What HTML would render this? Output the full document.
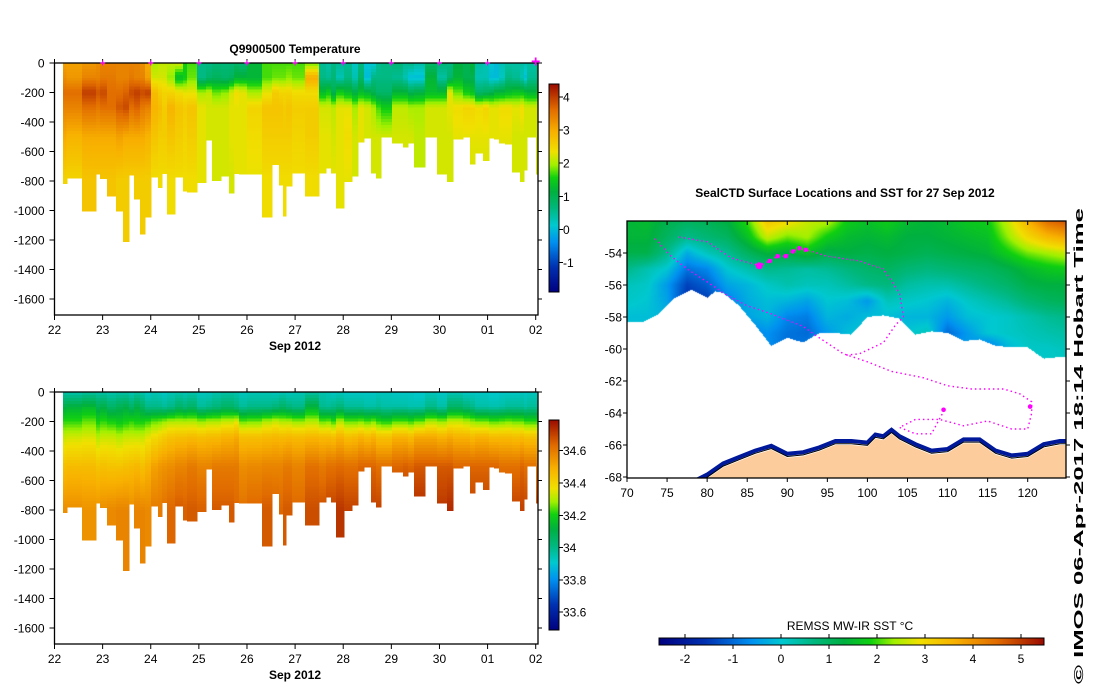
<!DOCTYPE html>
<html><head><meta charset="utf-8"><style>
html,body{margin:0;padding:0;background:#fff;}
#wrap{position:relative;width:1099px;height:700px;overflow:hidden;background:#fff;}
#sst{position:absolute;left:627px;top:221px;}
#main{position:absolute;left:0;top:0;}
text{font-family:"Liberation Sans",sans-serif;fill:#000;}
</style></head><body>
<div id="wrap">
<canvas id="sst" width="439" height="257"></canvas>
<svg id="main" width="1099" height="700" xmlns="http://www.w3.org/2000/svg">
<g id="tempPlot"></g>
<g id="salPlot"></g>
<g id="mapPlot"></g>
<text x="295" y="53" font-size="12" font-weight="bold" text-anchor="middle">Q9900500  Temperature</text>
<text x="845" y="197" font-size="12" font-weight="bold" text-anchor="middle">SealCTD Surface Locations and SST for 27 Sep 2012</text>
<text x="850" y="630" font-size="12" text-anchor="middle">REMSS MW-IR SST °C</text>
<text transform="translate(1083,684) rotate(-90)" font-size="13" font-weight="bold" textLength="476" lengthAdjust="spacingAndGlyphs">© IMOS 06-Apr-2017 18:14 Hobart Time</text>
</svg>
</div>
<script>
// ---------- data ----------
const depthLevels=[0,100,200,300,500,800];
const profileDay=[22.177,22.254,22.571,22.862,22.946,23.091,23.278,23.424,23.548,23.652,23.777,23.881,24.005,24.151,24.234,24.338,24.504,24.671,24.754,24.962,25.148,25.273,25.460,25.627,25.730,25.834,26.0,26.312,26.52,26.665,26.749,26.811,26.936,27.206,27.497,27.643,27.747,27.850,28.017,28.183,28.308,28.432,28.578,28.682,28.786,29.014,29.243,29.347,29.472,29.700,29.950,30.158,30.282,30.490,30.636,30.739,30.906,31.030,31.134,31.238,31.363,31.508,31.675,31.758,31.820,32.007,32.049];
const profileMaxDepth=[815,778,1001,753,782,900,1001,1211,758,920,1160,1045,772,845,750,1022,772,868,875,810,520,797,764,880,749,752,752,1045,688,825,1038,833,745,900,745,712,745,981,804,764,534,507,745,778,500,541,570,541,704,500,752,804,514,500,685,611,659,507,514,543,550,738,804,724,500,752];
const tempProfiles=[
[3.1,3.3,3.6,3.4,3.0,2.5],[3.1,3.2,3.6,3.4,2.9,2.5],[3.2,3.4,4.0,3.6,3.0,2.7],[3.3,3.4,3.8,3.5,3.0,2.7],[3.4,3.5,3.9,3.6,3.0,2.7],
[3.4,3.5,3.6,3.6,3.0,2.7],[3.4,3.4,3.6,3.8,3.1,2.6],[3.4,3.4,3.7,3.9,3.0,2.6],[3.4,3.5,3.9,3.6,3.0,2.6],[3.4,3.4,4.0,3.7,3.0,2.6],
[3.3,3.4,3.9,3.5,3.0,2.6],[3.0,3.1,4.0,3.4,2.9,2.6],[2.0,2.2,2.8,2.9,2.7,2.4],[2.1,2.2,2.6,2.8,2.6,2.4],[2.1,2.2,2.5,2.6,2.6,2.4],
[2.1,1.9,2.5,2.9,2.7,2.4],[2.2,1.3,2.4,2.7,2.6,2.4],[1.5,1.5,2.3,2.6,2.5,2.4],[1.7,1.8,2.3,2.7,2.6,2.4],[0.6,0.6,2.0,2.3,2.3,2.3],
[0.6,0.8,2.1,2.2,2.2,2.2],[0.7,0.9,1.8,2.2,2.2,2.2],[0.7,0.8,1.9,2.2,2.2,2.2],[0.7,0.9,2.2,2.3,2.3,2.2],[0.8,1.2,2.4,2.3,2.3,2.3],
[0.7,1.2,2.3,2.3,2.3,2.3],[1.2,1.2,2.0,2.5,2.4,2.3],[1.7,1.7,2.3,2.7,2.6,2.4],[1.7,1.8,2.6,2.7,2.6,2.4],[1.7,1.8,2.5,2.7,2.6,2.4],
[1.7,1.8,2.5,2.6,2.6,2.4],[1.7,1.9,2.5,2.7,2.6,2.4],[1.7,1.8,2.4,2.6,2.5,2.4],[1.8,3.0,2.4,2.6,2.6,2.4],[0.5,0.6,1.3,2.2,2.3,2.3],
[0.4,0.5,1.5,2.2,2.3,2.3],[0.6,0.7,1.0,2.1,2.2,2.3],[0.5,0.3,1.5,2.3,2.3,2.3],[0.5,0.6,1.3,2.3,2.4,2.3],[0.2,0.3,1.1,2.0,2.2,2.2],
[0.6,0.8,1.3,2.3,2.3,2.2],[0.1,0.0,1.2,2.2,2.2,2.2],[0.1,0.6,1.0,2.0,2.2,2.2],[0.5,0.6,0.8,1.7,2.2,2.2],[0.6,0.6,0.8,1.5,2.2,2.2],
[0.7,0.5,1.2,2.1,2.2,2.2],[0.5,0.3,1.2,2.1,2.2,2.2],[0.6,0.0,1.0,2.0,2.2,2.2],[0.4,0.0,1.1,2.0,2.1,2.1],[0.8,1.2,1.3,2.2,2.2,2.2],
[0.7,0.4,1.3,2.2,2.2,2.2],[0.6,0.8,2.3,2.3,2.2,2.2],[1.1,1.2,1.8,2.4,2.3,2.2],[1.0,1.0,1.5,2.5,2.3,2.2],[1.2,1.0,1.4,2.5,2.3,2.2],
[0.4,0.3,0.8,2.4,2.3,2.2],[0.3,0.3,0.9,2.5,2.3,2.2],[0.1,0.0,1.0,2.3,2.3,2.2],[0.0,0.0,1.2,2.3,2.3,2.2],[0.3,0.2,1.2,2.4,2.3,2.2],
[0.4,0.6,1.3,2.4,2.3,2.2],[0.4,0.5,1.4,2.3,2.2,2.2],[0.4,0.3,1.4,2.4,2.2,2.2],[0.3,0.0,1.3,2.2,2.2,2.2],[0.4,0.5,1.2,2.2,2.2,2.2],
[0.6,0.6,1.3,2.2,2.2,2.2]];
const salProfiles=[
[33.96,34.10,34.22,34.32,34.45,34.56],[33.95,34.12,34.22,34.33,34.46,34.56],[33.97,34.14,34.25,34.34,34.46,34.55],[33.96,34.08,34.2,34.3,34.44,34.55],[33.96,34.10,34.22,34.32,34.45,34.56],
[33.95,34.05,34.2,34.32,34.44,34.57],[33.96,34.08,34.18,34.3,34.44,34.58],[33.96,34.10,34.2,34.32,34.45,34.58],[33.94,34.05,34.22,34.32,34.46,34.56],[33.96,34.10,34.2,34.32,34.47,34.58],
[33.95,34.06,34.2,34.32,34.45,34.58],[33.92,34.0,34.22,34.35,34.48,34.57],[33.94,34.0,34.25,34.38,34.52,34.6],[33.93,34.0,34.26,34.4,34.54,34.6],[33.92,33.98,34.28,34.42,34.55,34.62],
[33.94,34.0,34.3,34.44,34.56,34.64],[33.95,34.05,34.3,34.45,34.58,34.66],[33.94,34.02,34.3,34.45,34.58,34.65],[33.95,34.05,34.3,34.46,34.6,34.66],[33.93,33.98,34.28,34.45,34.58,34.65],
[33.93,34.0,34.3,34.46,34.58,34.64],[33.95,34.02,34.3,34.46,34.6,34.66],[33.96,34.05,34.32,34.48,34.6,34.66],[33.96,34.05,34.32,34.48,34.6,34.66],[33.95,34.02,34.35,34.5,34.6,34.64],
[33.93,33.98,34.25,34.45,34.56,34.62],[33.94,34.0,34.26,34.45,34.57,34.64],[33.94,34.0,34.3,34.46,34.58,34.66],[33.93,34.02,34.32,34.47,34.58,34.65],[33.94,34.05,34.3,34.46,34.58,34.64],
[33.94,34.05,34.3,34.46,34.6,34.66],[33.93,34.02,34.3,34.47,34.6,34.66],[33.94,34.0,34.28,34.46,34.58,34.64],[33.96,34.12,34.3,34.47,34.62,34.68],[33.95,33.99,34.25,34.46,34.6,34.68],
[33.94,33.98,34.26,34.46,34.62,34.7],[33.92,34.0,34.22,34.45,34.62,34.7],[33.93,34.02,34.3,34.48,34.63,34.72],[33.92,33.98,34.25,34.45,34.62,34.7],[33.92,33.98,34.25,34.46,34.62,34.7],
[33.92,33.98,34.26,34.48,34.64,34.7],[33.92,33.96,34.24,34.46,34.64,34.7],[33.92,33.96,34.26,34.48,34.64,34.7],[33.93,33.98,34.22,34.44,34.62,34.7],[33.93,33.96,34.2,34.44,34.62,34.7],
[33.92,33.96,34.24,34.48,34.64,34.72],[33.92,33.96,34.24,34.48,34.65,34.72],[33.92,33.95,34.22,34.46,34.64,34.72],[33.91,33.95,34.25,34.5,34.66,34.74],[33.93,34.0,34.3,34.5,34.66,34.72],
[33.92,33.96,34.28,34.48,34.66,34.72],[33.94,34.05,34.32,34.5,34.66,34.74],[33.94,34.05,34.32,34.48,34.64,34.7],[33.92,34.02,34.3,34.48,34.64,34.7],[33.92,34.0,34.28,34.46,34.64,34.7],
[33.92,33.96,34.26,34.48,34.64,34.7],[33.92,33.96,34.26,34.48,34.64,34.7],[33.91,33.95,34.24,34.46,34.64,34.7],[33.91,33.95,34.24,34.46,34.64,34.7],[33.92,33.96,34.25,34.46,34.62,34.7],
[33.92,33.98,34.26,34.46,34.62,34.7],[33.92,33.98,34.25,34.45,34.62,34.7],[33.93,33.98,34.25,34.46,34.64,34.7],[33.92,33.96,34.22,34.44,34.62,34.7],[33.93,33.98,34.22,34.44,34.62,34.68],
[33.93,33.98,34.22,34.44,34.6,34.68]];
const dayTicks=[22,23,24,25,26,27,28,29,30,31,32];
const dayTickLabels=["22","23","24","25","26","27","28","29","30","01","02"];
const depthTicks=[0,-200,-400,-600,-800,-1000,-1200,-1400,-1600];
const tempBarTicks=[-1,0,1,2,3,4];
const salBarTicks=[33.6,33.8,34.0,34.2,34.4,34.6];
const salBarLabels=["33.6","33.8","34","34.2","34.4","34.6"];
const sstBarTicks=[-2,-1,0,1,2,3,4,5];
// map data
const sstLons=[70,72.5,75,77.5,80,82.5,85,87.5,90,92.5,95,97.5,100,102.5,105,107.5,110,112.5,115,117.5,120,122.5,125];
const sstLats=[-52,-53,-54,-55,-56,-57,-58,-59,-60,-61];
const sstGrid=[
[1.4,1.5,1.2,1.0,1.1,1.3,2.0,3.3,3.0,2.6,2.5,1.8,1.6,1.8,1.5,1.4,1.5,1.7,1.8,2.6,3.6,4.5,4.8],
[1.4,1.4,1.0,0.6,0.8,1.0,1.6,2.6,2.2,2.4,1.8,1.5,1.4,1.5,1.3,1.3,1.4,1.5,1.6,2.3,3.0,3.5,3.8],
[1.2,1.2,0.6,-0.3,0.2,0.5,1.0,1.4,1.3,1.6,1.2,1.3,1.2,1.3,1.2,1.1,1.2,1.3,1.4,1.8,2.2,2.4,2.6],
[0.6,0.3,0.0,-0.9,-0.7,0.0,0.3,0.6,0.5,0.4,0.5,0.7,0.9,1.0,0.8,0.7,0.8,0.9,1.0,1.2,1.5,1.7,1.8],
[0.2,0.1,-0.5,-1.4,-1.1,-0.4,-0.2,0.1,0.3,0.2,0.2,0.4,0.6,0.7,0.4,0.3,0.3,0.5,0.7,0.9,1.2,1.3,1.3],
[0.1,0.0,-0.4,-1.6,-1.5,-0.8,-0.3,-0.1,-0.2,-0.4,0.0,-0.1,-0.5,0.2,0.1,0.0,-0.2,0.1,0.3,0.5,0.8,1.0,1.1],
[-0.1,-0.1,-0.2,-0.7,-0.7,-0.5,-0.4,-0.2,-0.7,-0.8,-0.2,-0.3,-0.1,-0.1,-0.2,-0.2,-0.5,-0.1,0.0,0.1,0.3,0.5,0.6],
[0.0,0.0,0.0,0.0,0.0,0.0,-0.8,-0.6,-0.9,-1.0,-0.5,-0.1,0.0,0.0,0.0,0.2,-1.0,-0.5,0.0,0.1,0.2,0.3,0.4],
[0.0,0.0,0.0,0.0,0.0,0.0,-0.8,-0.6,-1.0,-0.8,-0.4,-0.1,0.0,0.0,0.0,0.0,-0.5,-0.5,-1.0,-0.2,0.1,0.1,0.2],
[0.0,0.0,0.0,0.0,0.0,0.0,-0.5,-0.5,-0.5,-0.5,-0.3,0.0,0.0,0.0,0.0,0.0,-0.3,-0.3,-0.5,-0.2,0.0,0.1,0.1]];
const edgeLons=[70,72,74,76,78,80,81,82,84,86,88,90,92,94,96,98,100,102,104,106,108,110,112,114,116,118,120,122,124,125];
const iceEdgeLats=[-58.3,-58.3,-57.8,-56.8,-56.3,-56.8,-56.4,-56.5,-57.3,-58.5,-59.8,-59.3,-59.6,-59.0,-59.0,-59.1,-58.0,-57.9,-58.1,-59.1,-58.9,-59.0,-59.5,-59.4,-59.8,-59.9,-59.9,-60.6,-60.5,-60.5];
const coastLons=[78,80,82,84,86,88,90,92,94,96,98,100,101,102,103,104,106,108,110,112,114,116,118,120,122,124,125];
const coastLats=[-68.6,-68.1,-67.4,-67.0,-66.6,-66.3,-66.8,-66.7,-66.4,-66.0,-66.0,-66.1,-65.6,-65.7,-65.3,-65.7,-66.2,-66.6,-66.5,-65.9,-65.9,-66.6,-66.9,-66.8,-66.2,-66.0,-66.0];
const trackLons=[73.5,75.5,77.5,80,82,85,88,90,92,94,97,100,103,107,110,113,117,119,120.5,120.5,120,118,115,112,109,106,104,106,108,109.5];
const trackLats=[-53.1,-54.2,-55.0,-55.8,-56.5,-57.3,-57.8,-58.2,-58.6,-59.3,-60.3,-60.8,-61.4,-61.8,-62.3,-62.5,-62.5,-62.8,-63.3,-64.0,-65.0,-65.0,-64.5,-64.8,-64.4,-64.4,-64.9,-65.3,-65.3,-63.9];
const track2Lons=[76.5,80,83,86.5,87.8,88.8,89.8,90.7,91.5,92.3,95,99,102,104,104.5,103.5,102,99,97];
const track2Lats=[-53.0,-53.3,-54.3,-54.8,-54.5,-54.2,-54.2,-53.9,-53.7,-53.8,-54.2,-54.5,-55.0,-56.5,-58.0,-58.5,-59.6,-60.3,-60.4];
const dailyLons=[86.5,87.8,88.8,89.8,90.7,91.5,92.3,120.3,109.5];
const dailyLats=[-54.8,-54.5,-54.2,-54.2,-53.9,-53.7,-53.8,-63.6,-63.8];
const lonTicks=[70,75,80,85,90,95,100,105,110,115,120];
const latTicks=[-54,-56,-58,-60,-62,-64,-66,-68];

// ---------- helpers ----------
const NS="http://www.w3.org/2000/svg";
function mk(tag,attrs,parent){const e=document.createElementNS(NS,tag);for(const k in attrs)e.setAttribute(k,attrs[k]);parent.appendChild(e);return e;}
const stops=[[0,[0,0,127]],[0.12,[0,48,176]],[0.24,[0,144,240]],[0.32,[0,200,208]],[0.40,[0,184,128]],[0.48,[0,176,64]],[0.55,[16,208,16]],[0.61,[160,240,0]],[0.675,[240,224,0]],[0.77,[248,176,0]],[0.88,[224,106,0]],[1,[154,10,0]]];
function cmapRGB(t){t=Math.max(0,Math.min(1,t));for(let i=1;i<stops.length;i++){if(t<=stops[i][0]){const a=stops[i-1],b=stops[i];const f=(t-a[0])/(b[0]-a[0]);return [0,1,2].map(k=>Math.round(a[1][k]+(b[1][k]-a[1][k])*f));}}return stops[stops.length-1][1];}
function cmap(t){const c=cmapRGB(t);return `rgb(${c[0]},${c[1]},${c[2]})`;}
function interp(xs,ys,x){if(x<=xs[0])return ys[0];for(let i=1;i<xs.length;i++){if(x<=xs[i]){const f=(x-xs[i-1])/(xs[i]-xs[i-1]);return ys[i-1]+(ys[i]-ys[i-1])*f;}}return ys[ys.length-1];}

// ---------- section plots ----------
function section(g,top,profiles,vmin,vmax,barTicks,barLabels,isTemp){
  const X0=54.5,PXD=48.12,PXM=0.1475,R=538,B=top+252;
  const xs=d=>X0+(d-22)*PXD, ys=m=>top+m*PXM;
  const cells=mk('g',{'shape-rendering':'crispEdges'},g);
  
  
  for(let i=0;i<profileMaxDepth.length;i++){
    const x1=xs(profileDay[i]),x2=xs(profileDay[i+1]);const md=profileMaxDepth[i];
    for(let d=0;d<md;d+=20){
      const v=interp(depthLevels,profiles[i],d+10);
      const r=mk('rect',{x:x1.toFixed(2),y:ys(d).toFixed(2),width:(x2-x1+0.6).toFixed(2),height:(ys(Math.min(d+20,md))-ys(d)+0.6).toFixed(2),fill:cmap((v-vmin)/(vmax-vmin))},cells);
      
      
    }
  }
  const frame=mk('rect',{x:X0,y:top,width:R-X0,height:B-top,fill:'none',stroke:'#000','stroke-width':1.3},g);
  
  
  dayTicks.forEach((d,i)=>{
    const x=xs(d);
    mk('line',{x1:x,x2:x,y1:B,y2:B+5,stroke:'#000'},g);
    mk('line',{x1:x,x2:x,y1:top,y2:top-4,stroke:'#000'},g);
    const t=mk('text',{x:x,y:B+19,'font-size':12,'text-anchor':'middle'},g);t.textContent=dayTickLabels[i];
    
    
    if(isTemp&&i>0){const mm=mk('text',{x:x,y:top+3.5,'font-size':i==dayTicks.length-1?16:10,'text-anchor':'middle',style:'fill:#ff00ff;font-weight:bold'},g);mm.textContent='+';
      
      }
  });
  const xl=mk('text',{x:295,y:B+35,'font-size':12,'font-weight':'bold','text-anchor':'middle'},g);xl.textContent='Sep 2012';
  
  
  depthTicks.forEach(v=>{
    const y=ys(-v);
    mk('line',{x1:X0-5,x2:X0,y1:y,y2:y,stroke:'#000'},g);
    mk('line',{x1:R,x2:R+4,y1:y,y2:y,stroke:'#000'},g);
    const t=mk('text',{x:X0-10,y:y+4.5,'font-size':12,'text-anchor':'end'},g);t.textContent=String(v);
    
    
  });
  const cb=mk('g',{'shape-rendering':'crispEdges'},g);
  
  
  const cbT=isTemp?84:420,cbB=isTemp?292:630,cbX=549,cbW=10;
  for(let y=cbT;y<cbB;y++){mk('rect',{x:cbX,y:y,width:cbW,height:1.2,fill:cmap((cbB-y-0.5)/(cbB-cbT))},cb);}
  mk('rect',{x:cbX,y:cbT,width:cbW,height:cbB-cbT,fill:'none',stroke:'#000'},cb);
  barTicks.forEach((v,i)=>{
    const y=cbB-(v-vmin)/(vmax-vmin)*(cbB-cbT);
    mk('line',{x1:cbX+cbW,x2:cbX+cbW+4,y1:y,y2:y,stroke:'#000'},cb);
    const t=mk('text',{x:cbX+cbW+4,y:y+4.5,'font-size':12},cb);t.textContent=barLabels[i];
    
    
  });
}
section(document.getElementById('tempPlot'),63,tempProfiles,-1.9,4.4,tempBarTicks,tempBarTicks.map(String),true);
section(document.getElementById('salPlot'),392,salProfiles,33.49,34.79,salBarTicks,salBarLabels,false);

// ---------- map ----------
const MX0=627,MY0=221,MW=439,MH=257;
const lx=lon=>MX0+(lon-70)*8.014, ly=lat=>MY0+(-52-lat)*16.0;
const SMIN=-2.54,SMAX=5.48;
(function(){
  const c=document.getElementById('sst').getContext('2d');const img=c.createImageData(MW,MH);
  for(let py=0;py<MH;py++){const lat=-52-(py+0.5)/16;
    for(let px=0;px<MW;px++){const lon=70+(px+0.5)/8.014;
      const k=(py*MW+px)*4;
      if(lat<interp(edgeLons,iceEdgeLats,lon)){img.data[k]=255;img.data[k+1]=255;img.data[k+2]=255;img.data[k+3]=255;continue;}
      let fi=(lon-70)/2.5;let i0=Math.min(sstLons.length-2,Math.floor(fi));let fx=fi-i0;
      let fj=(-52-lat);let j0=Math.min(sstLats.length-2,Math.max(0,Math.floor(fj)));let fy=Math.min(1,fj-j0);
      const v=(sstGrid[j0][i0]*(1-fx)+sstGrid[j0][i0+1]*fx)*(1-fy)+(sstGrid[j0+1][i0]*(1-fx)+sstGrid[j0+1][i0+1]*fx)*fy;
      const rgb=cmapRGB((v-SMIN)/(SMAX-SMIN));img.data[k]=rgb[0];img.data[k+1]=rgb[1];img.data[k+2]=rgb[2];img.data[k+3]=255;}}
  c.putImageData(img,0,0);
})();
const mg=document.getElementById('mapPlot');
const clip=mk('clipPath',{id:'mclip'},mg);mk('rect',{x:MX0,y:MY0,width:MW,height:MH},clip);
const inner=mk('g',{'clip-path':'url(#mclip)'},mg);
let band=coastLons.map((l,i)=>lx(l).toFixed(1)+','+ly(coastLats[i]+0.25).toFixed(1)).join(' ');
const bl=mk('polyline',{points:band,fill:'none',stroke:'#00189a','stroke-width':4},inner);


let landPts=coastLons.map((l,i)=>lx(l).toFixed(1)+','+ly(coastLats[i]).toFixed(1)).join(' ');
const land=mk('polygon',{points:landPts+' '+lx(125)+','+ly(-69)+' '+lx(78)+','+ly(-69),fill:'#fccc9c'},inner);


const cl=mk('polyline',{points:coastLons.map((l,i)=>lx(l).toFixed(1)+','+ly(coastLats[i]+0.08).toFixed(1)).join(' '),fill:'none',stroke:'#000','stroke-width':1},inner);


const t1=mk('polyline',{points:trackLons.map((l,i)=>lx(l).toFixed(1)+','+ly(trackLats[i]).toFixed(1)).join(' '),fill:'none',stroke:'#ff00ff','stroke-width':1.4,'stroke-dasharray':'1.5 3'},inner);


const t2=mk('polyline',{points:track2Lons.map((l,i)=>lx(l).toFixed(1)+','+ly(track2Lats[i]).toFixed(1)).join(' '),fill:'none',stroke:'#ff00ff','stroke-width':1.4,'stroke-dasharray':'1.5 3'},inner);


dailyLons.forEach((l,i)=>{const p=mk('circle',{cx:lx(l),cy:ly(dailyLats[i]),r:i==0?3.5:2.3,fill:'#ff00ff'},inner);
  
  });
const mf=mk('rect',{x:MX0,y:MY0,width:MW,height:MH,fill:'none',stroke:'#000','stroke-width':1.3},mg);


lonTicks.forEach(l=>{const x=lx(l);mk('line',{x1:x,x2:x,y1:MY0,y2:MY0+4,stroke:'#000'},mg);mk('line',{x1:x,x2:x,y1:MY0+MH,y2:MY0+MH+4,stroke:'#000'},mg);
  const t=mk('text',{x:x,y:MY0+MH+19,'font-size':12,'text-anchor':'middle'},mg);t.textContent=String(l);
  
  });
latTicks.forEach(l=>{const y=ly(l);mk('line',{x1:MX0-4,x2:MX0,y1:y,y2:y,stroke:'#000'},mg);mk('line',{x1:MX0+MW,x2:MX0+MW+4,y1:y,y2:y,stroke:'#000'},mg);
  const t=mk('text',{x:MX0-5,y:y+4.5,'font-size':12,'text-anchor':'end'},mg);t.textContent=String(l);
  
  });
const sb=mk('g',{'shape-rendering':'crispEdges'},mg);


const SB0=659,SB1=1044,SBY=638,SBH=7;
for(let x=SB0;x<SB1;x++)mk('rect',{x:x,y:SBY,width:1.2,height:SBH,fill:cmap((x+0.5-SB0)/(SB1-SB0))},sb);
mk('rect',{x:SB0,y:SBY,width:SB1-SB0,height:SBH,fill:'none',stroke:'#000'},sb);
sstBarTicks.forEach(v=>{const x=SB0+(v-SMIN)/(SMAX-SMIN)*(SB1-SB0);mk('line',{x1:x,x2:x,y1:SBY-4,y2:SBY,stroke:'#000'},sb);mk('line',{x1:x,x2:x,y1:SBY+SBH,y2:SBY+SBH+4,stroke:'#000'},sb);
  const t=mk('text',{x:x,y:SBY+SBH+18,'font-size':12,'text-anchor':'middle'},sb);t.textContent=String(v);
  
  });
</script>
</body></html>
